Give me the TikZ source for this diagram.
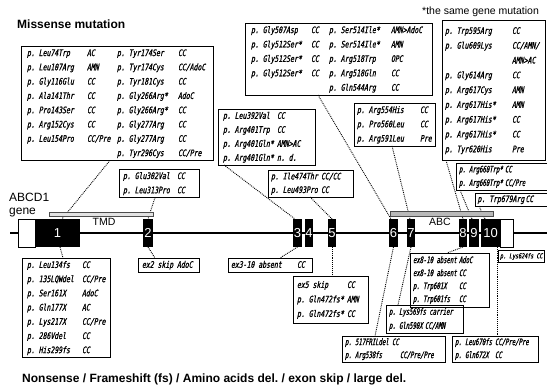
\documentclass[tikz,border=0pt]{standalone}
\usepackage{fontspec}
\usepackage{array}
\setmainfont{Liberation Sans}
\newfontfamily\af{Liberation Sans}
\newfontfamily\mf[FakeStretch=0.72,FakeSlant=0.2,FakeBold=1]{DejaVu Sans Mono}
\newfontfamily\mfn[FakeStretch=0.62,FakeSlant=0.2,FakeBold=1]{DejaVu Sans Mono}
\newcommand\rs[1]{\fontsize{9}{#1}\selectfont}
\newcolumntype{L}[1]{@{}w{l}{#1}@{}}
\usetikzlibrary{calc}
\frenchspacing
\begin{document}
\begin{tikzpicture}[x=1pt,y=-1pt,
  mbox/.style={draw, line width=0.7pt, anchor=north west, inner ysep=0pt, outer sep=0pt},
  exon/.style={fill=black, minimum height=28pt, inner sep=0pt, outer sep=0pt, text=white, font=\af\fontsize{13}{13}\selectfont},
  utr/.style={fill=white, draw=black, line width=0.8pt, minimum height=28pt, inner sep=0pt, outer sep=0pt},
  bar/.style={line width=0.5pt, minimum height=4.5pt, inner sep=0pt, outer sep=0pt},
  conn/.style={densely dotted, line width=0.9pt},
  ttl/.style={anchor=base west, inner sep=0pt, font=\af\bfseries\fontsize{12}{12}\selectfont},
  lbl/.style={inner sep=0pt, font=\af\fontsize{10.5}{10.5}\selectfont}]
\useasboundingbox (0,0) rectangle (547,386);
\clip (0,0) rectangle (547,386);
\fill[white] (0,0) rectangle (547,386);

% titles
\node[ttl] (tmis) at (17,28.5) {Missense mutation};
\node[ttl] (tnon) at (22,382) {Nonsense / Frameshift (fs) / Amino acids del. / exon skip / large del.};
\node[anchor=base west, inner sep=0pt, font=\af\fontsize{10.5}{10.5}\selectfont] (tsame) at (422,14.5) {*the same gene mutation};
\node[anchor=base west, inner sep=0pt, font=\af\fontsize{12}{12}\selectfont] (gn1) at (9,201.5) {ABCD1};
\node[anchor=base west, inner sep=0pt, font=\af\fontsize{12}{12}\selectfont] (gn2) at (9,214) {gene};

% gene
\coordinate (gl) at (10,233);
\coordinate (gr) at (547,233);
\draw[line width=1.2pt] (gl) -- (gr);
\node[utr, minimum width=17pt] (u5) at (26.5,233) {};
\node[utr, minimum width=13pt] (u3) at (506.5,233) {};
\node[exon, minimum width=45pt] (e1) at (57.5,233) {1};
\node[exon, minimum width=10pt] (e2) at (148,233) {2};
\node[exon, minimum width=9pt] (e3) at (297.5,233) {3};
\node[exon, minimum width=8pt] (e4) at (309,233) {4};
\node[exon, minimum width=8pt] (e5) at (332,233) {5};
\node[exon, minimum width=9pt] (e6) at (393.5,233) {6};
\node[exon, minimum width=8pt] (e7) at (411,233) {7};
\node[exon, minimum width=8pt] (e8) at (463,233) {8};
\node[exon, minimum width=10pt] (e9) at (474,233) {9};
\node[exon, minimum width=19pt] (e10) at (490.5,233) {10};
\draw[line width=2pt, dash pattern=on 1.2pt off 0.8pt] (e1.east) -- (e2.west);

% missense boxes
\node[mbox, inner xsep=6pt, font=\mf\rs{14.3}] (bA) at (21,46) {\begin{tabular}{L{60pt}L{30pt}L{61pt}L{29pt}}
p. Leu74Trp & AC & p. Tyr174Ser & CC\\
p. Leu107Arg & AMN & p. Tyr174Cys & CC/AdoC\\
p. Gly116Glu & CC & p. Tyr181Cys & CC\\
p. Ala141Thr & CC & p. Gly266Arg* & AdoC\\
p. Pro143Ser & CC & p. Gly266Arg* & CC\\
p. Arg152Cys & CC & p. Gly277Arg & CC\\
p. Leu154Pro & CC/Pre & p. Gly277Arg & CC\\
 & & p. Tyr296Cys & CC/Pre
\end{tabular}};
\node[mbox, inner xsep=4pt, font=\mf\rs{14.3}] (bB) at (119,169) {\begin{tabular}{L{54pt}L{18pt}}
p. Glu302Val & CC\\
p. Leu313Pro & CC
\end{tabular}};
\node[mbox, inner xsep=5pt, font=\mf\rs{14}] (bC) at (218,109) {\begin{tabular}{L{54pt}L{33pt}}
p. Leu392Val & CC\\
p. Arg401Trp & CC\\
p. Arg401Gln* & AMN>AC\\
p. Arg401Gln* & n. d.
\end{tabular}};
\node[mbox, inner xsep=3pt, font=\mf\rs{13.5}] (bD) at (268,170) {\begin{tabular}{L{50pt}L{29pt}}
p. Ile474Thr & CC/CC\\
p. Leu493Pro & CC
\end{tabular}};
\node[mbox, inner xsep=6pt, font=\mf\rs{14.4}] (bE) at (245,23) {\begin{tabular}{L{60pt}L{18pt}L{62pt}L{35pt}}
p. Gly507Asp & CC & p. Ser514Ile* & AMN>AdoC\\
p. Gly512Ser* & CC & p. Ser514Ile* & AMN\\
p. Gly512Ser* & CC & p. Arg518Trp & OPC\\
p. Gly512Ser* & CC & p. Arg518Gln & CC\\
 & & p. Gln544Arg & CC
\end{tabular}};
\node[mbox, inner xsep=3pt, font=\mf\rs{14.3}] (bF) at (354,103) {\begin{tabular}{L{63pt}L{12pt}}
p. Arg554His & CC\\
p. Pro560Leu & CC\\
p. Arg591Leu & Pre
\end{tabular}};
\node[mbox, inner xsep=3pt, inner ysep=3.5pt, font=\mf\rs{14.8}] (bG) at (442,20) {\begin{tabular}{L{67pt}L{30pt}}
p. Trp595Arg & CC\\
p. Glu609Lys & CC/AMN/\\
 & AMN>AC\\
p. Gly614Arg & CC\\
p. Arg617Cys & AMN\\
p. Arg617His* & AMN\\
p. Arg617His* & CC\\
p. Arg617His* & CC\\
p. Tyr620His & Pre
\end{tabular}};
\node[mbox, inner xsep=3pt, font=\mfn\rs{13.5}] (bH) at (456,163) {\begin{tabular}{L{46pt}L{50pt}}
p. Arg660Trp* & CC\\
p. Arg660Trp* & CC/Pre
\end{tabular}};
\node[mbox, inner xsep=2.5pt, font=\mf\rs{13}] (bI) at (475,193) {\begin{tabular}{L{48pt}L{30pt}}
p. Trp679Arg & CC
\end{tabular}};

% nonsense boxes
\node[mbox, inner xsep=5pt, font=\mf\rs{14.2}] (bJ) at (22,258) {\begin{tabular}{L{55pt}L{23pt}}
p. Leu134fs & CC\\
p. 135LQWdel & CC/Pre\\
p. Ser161X & AdoC\\
p. Gln177X & AC\\
p. Lys217X & CC/Pre\\
p. 286Vdel & CC\\
p. His299fs & CC
\end{tabular}};
\node[mbox, inner xsep=4pt, font=\mf\rs{14}] (bK) at (138,258) {\begin{tabular}{L{35pt}L{18pt}}
ex2 skip & AdoC
\end{tabular}};
\node[mbox, inner xsep=3pt, font=\mf\rs{14}] (bL) at (228,258) {\begin{tabular}{L{66pt}L{12pt}}
ex3-10 absent & CC
\end{tabular}};
\node[mbox, inner xsep=4pt, inner ysep=1.75pt, font=\mf\rs{14.5}] (bM) at (293,276) {\begin{tabular}{L{50pt}L{17pt}}
ex5 skip & CC\\
p. Gln472fs* & AMN\\
p. Gln472fs* & CC
\end{tabular}};
\node[mbox, inner xsep=3pt, inner ysep=1pt, font=\mfn\rs{13}] (bN) at (410,253) {\begin{tabular}{L{46pt}L{27pt}}
ex8-10 absent & AdoC\\
ex8-10 absent & CC\\
p. Trp601X & CC\\
p. Trp601fs & CC
\end{tabular}};
\node[mbox, inner xsep=2pt, font=\mf\fontsize{7}{12}\selectfont] (bO) at (498,250) {\begin{tabular}{@{}l@{}}
p. Lys624fs CC
\end{tabular}};
\node[mbox, inner xsep=3pt, font=\mfn\rs{14}] (bP) at (386,305) {\begin{tabular}{L{36pt}L{35pt}}
\multicolumn{2}{@{}l@{}}{p. Lys569fs carrier}\\
p. Gln590X & CC/AMN
\end{tabular}};
\node[mbox, inner xsep=3pt, font=\mfn\rs{13}] (bQ) at (342,336) {\begin{tabular}{L{55pt}L{42pt}}
\multicolumn{2}{@{}l@{}}{p. 517FRILdel CC}\\
p. Arg538fs & CC/Pre/Pre
\end{tabular}};
\node[mbox, inner xsep=3pt, font=\mfn\rs{13}] (bR) at (452,336) {\begin{tabular}{L{40pt}L{40pt}}
p. Leu670fs & CC/Pre/Pre\\
p. Gln672X & CC
\end{tabular}};

% connectors
\draw[conn] ([xshift=89pt]bA.south west) -- ([xshift=27pt]e1.north west);
\draw[conn] ([xshift=36pt]bB.south west) -- (e2.north);
\draw[conn] ([xshift=6pt]bC.south west) -- ([xshift=2pt]e3.north west);
\draw[conn] ([xshift=42pt]bD.south west) -- (e5.north);
\draw[conn] ([xshift=73pt]bE.south west) -- ([xshift=2pt]e6.north west);
\draw[conn] ([xshift=38pt]bF.south west) -- ([xshift=3pt]e7.north west);
\draw[conn] ([xshift=4pt]bG.south west) -- (e8.north);
\draw[conn] ([xshift=4pt]bH.south west) -- ([xshift=3pt]e9.north west);
\draw[conn] ([xshift=4pt]bI.south west) -- ([xshift=4pt]e10.north west);
\draw[conn] ([xshift=25pt]e1.south west) -- ([xshift=41pt]bJ.north west);
\draw[conn] (e2.south) -- ([xshift=17pt]bK.north west);
\draw[conn] (e3.south) -- ([xshift=52pt]bL.north west);
\draw[conn] (e5.south) -- ([xshift=39pt]bM.north west);
\draw[conn] (e6.south) -- ([xshift=33pt]bQ.north west);
\draw[conn] (e7.south) -- ([xshift=12pt]bP.north west);
\draw[conn] (e8.south) -- ([xshift=37pt]bN.north west);
\draw[conn] ([xshift=16pt]e10.south west) -- ([xshift=45pt]bR.north west);

% domain bars
\node[bar, draw=gray!60!black, fill=gray!22, minimum width=104pt] (tmd) at (101,214.2) {};
\node[bar, draw=gray!60!black, fill=gray!55, minimum width=103pt] (abc) at (441.5,213.5) {};
\node[lbl] (ttmd) at (104,221.5) {TMD};
\node[lbl] (tabc) at (440,221.5) {ABC};
\end{tikzpicture}
\end{document}
